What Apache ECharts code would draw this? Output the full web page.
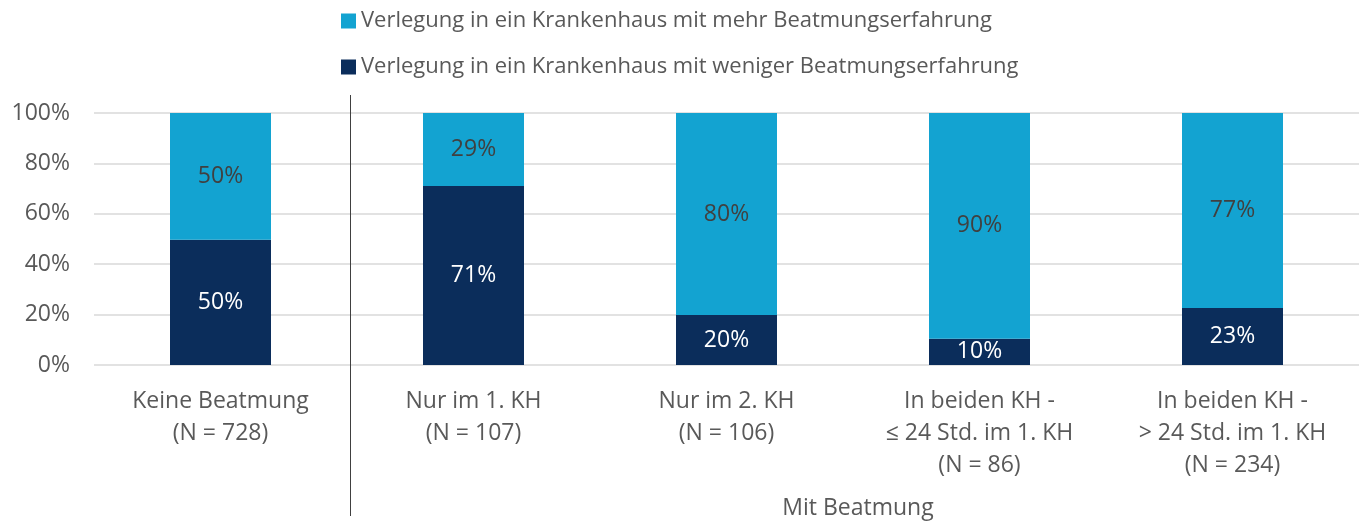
<!DOCTYPE html>
<html><head><meta charset="utf-8">
<script src="https://cdn.jsdelivr.net/npm/echarts@6/dist/echarts.min.js"></script>
<style>html,body{margin:0;padding:0;background:#fff}#c{width:1363px;height:524px}</style>
</head><body><div id="c"></div>
<script>
var categories = ['Keine Beatmung\n(N = 728)', 'Nur im 1. KH\n(N = 107)', 'Nur im 2. KH\n(N = 106)', 'In beiden KH -\n≤ 24 Std. im 1. KH\n(N = 86)', 'In beiden KH -\n> 24 Std. im 1. KH\n(N = 234)'];
var seriesNames = ['Verlegung in ein Krankenhaus mit mehr Beatmungserfahrung', 'Verlegung in ein Krankenhaus mit weniger Beatmungserfahrung'];
var weniger = [49.7, 71, 19.8, 10.4, 22.6];
var mehr = [50.3, 29, 80.2, 89.6, 77.4];
var yTicks = [0, 20, 40, 60, 80, 100];
var groupLabel = 'Mit Beatmung';

var FONT = '"Open Sans", Lato, sans-serif';
var FS = 23;
var pct = function(p){ return Math.round(p.value) + '%'; };
var chart = echarts.init(document.getElementById('c'));
var option = {
  animation: false,
  textStyle: {fontFamily: FONT},
  legend: {
    orient: 'vertical', left: 336, top: 5,
    itemWidth: 15, itemHeight: 15, itemGap: 24,
    icon: 'rect',
    data: [seriesNames[0], seriesNames[1]],
    textStyle: {fontSize: 22, color: '#595959', fontFamily: FONT}
  },
  grid: {left: 94, right: 4, top: 113, bottom: 159},
  xAxis: {
    type: 'category', data: categories,
    axisLine: {show: false}, axisTick: {show: false},
    axisLabel: {fontSize: FS, color: '#595959', lineHeight: 32, margin: 20, interval: 0, fontFamily: FONT}
  },
  yAxis: {
    type: 'value', min: 0, max: 100, interval: 20,
    axisLabel: {formatter: function(v){return v + '%';}, fontSize: FS, color: '#595959', margin: 24, fontFamily: FONT},
    splitLine: {lineStyle: {color: '#d9d9d9', width: 1.5}},
    axisLine: {show: false}, axisTick: {show: false}
  },
  series: [
    {name: seriesNames[1], type: 'bar', stack: 'a', data: weniger, barWidth: 101,
     itemStyle: {color: '#0b2d5b'},
     label: {show: true, position: 'inside', formatter: pct, color: '#ffffff', fontSize: FS, fontFamily: FONT}},
    {name: seriesNames[0], type: 'bar', stack: 'a', data: mehr, barWidth: 101,
     itemStyle: {color: '#13a3d1'},
     label: {show: true, position: 'inside', formatter: pct, color: '#404040', fontSize: FS, fontFamily: FONT}}
  ]
};
chart.setOption(option);
var p0 = chart.convertToPixel({xAxisIndex: 0}, 0);
var p1 = chart.convertToPixel({xAxisIndex: 0}, 1);
var p4 = chart.convertToPixel({xAxisIndex: 0}, 4);
var sepX = Math.round((p0 + p1) / 2) + 3.5;
chart.setOption({
  graphic: [
    {type: 'line', shape: {x1: sepX, y1: 95, x2: sepX, y2: 516}, style: {stroke: '#404040', lineWidth: 1}},
    {type: 'text', x: (p1 + p4) / 2 + 5, y: 508, style: {text: groupLabel, fontSize: FS, fill: '#595959', fontFamily: FONT, textAlign: 'center', textVerticalAlign: 'middle'}}
  ]
});
</script></body></html>
